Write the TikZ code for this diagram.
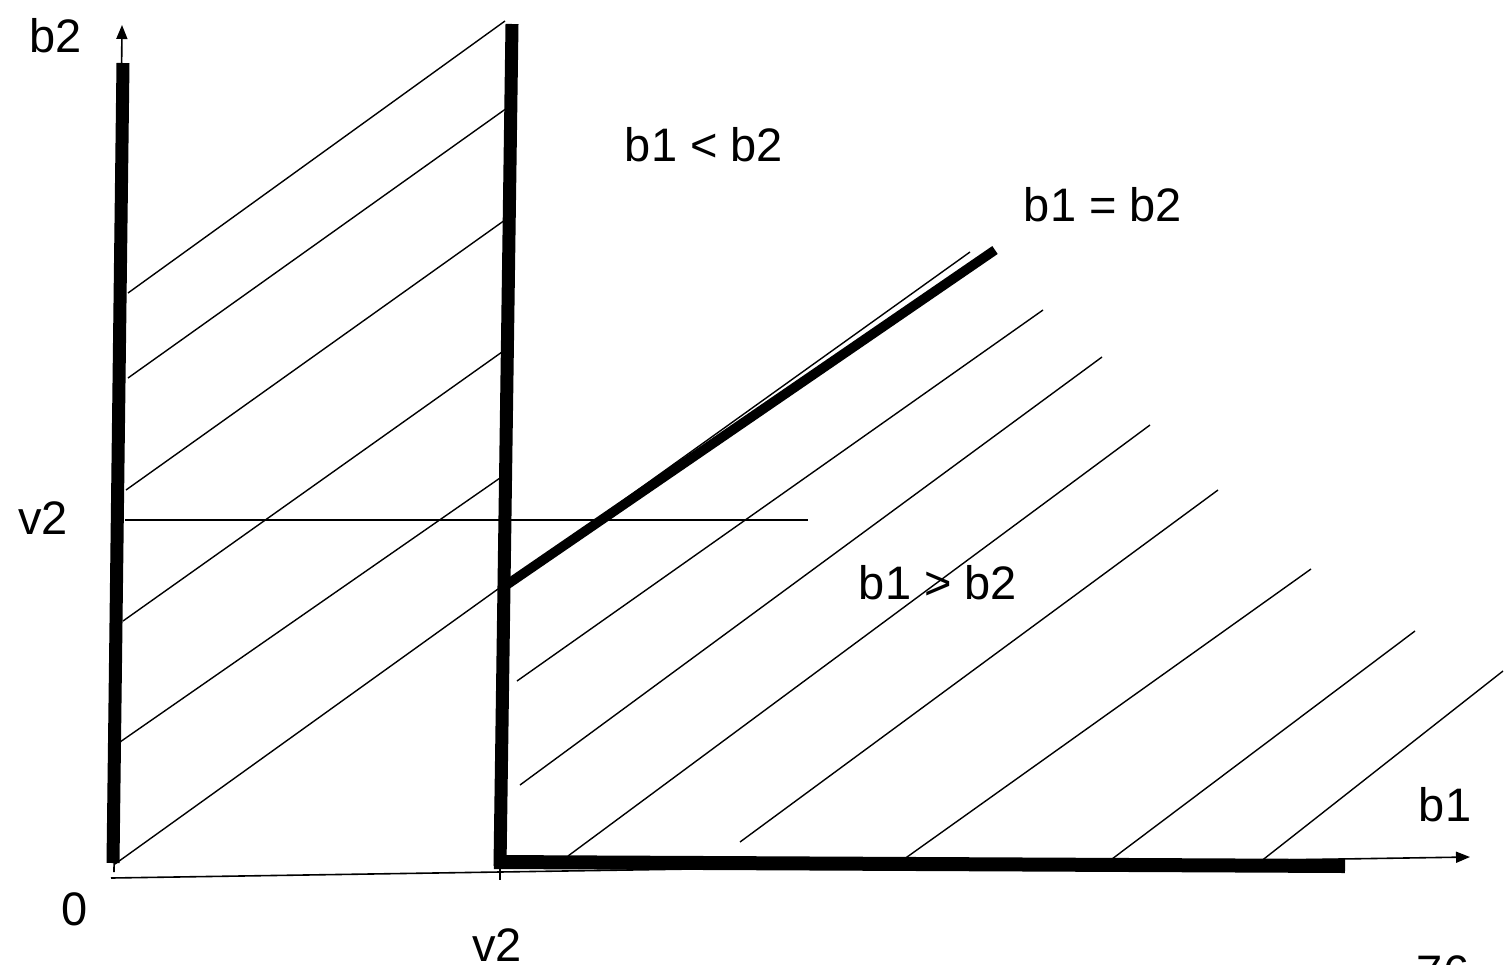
\documentclass[tikz,border=0pt]{standalone}
\usepackage{fontspec}
\setmainfont{Liberation Sans}
\usetikzlibrary{arrows.meta}
\tikzset{
  bar/.style={line width=6.5pt, line cap=butt},
  hatch/.style={line width=0.7pt},
  axisline/.style={line width=0.8pt, -{Triangle[length=7pt,width=5.5pt]}},
  lbl/.style={font=\fontsize{23.5}{28}\selectfont, inner sep=0pt}}

\begin{document}
\begin{tikzpicture}[x=0.5pt, y=-0.5pt]
  \useasboundingbox (0,0) rectangle (1508,964);
  % axes
  \coordinate (origin) at (111,878);
  \coordinate (ybase) at (114,872);
  \coordinate (xtip) at (1470,857);
  \coordinate (ytip) at (122,25);
  \draw[axisline] (origin) -- (xtip);
  \draw[axisline] (ybase) -- (ytip);
  \coordinate (tickt) at (500,869);
  \coordinate (tickb) at (500,880);
  \draw[hatch] (tickt) -- (tickb);
  % level v2
  \coordinate (vl) at (125,520);
  \coordinate (vr) at (808,520);
  \draw[hatch] (vl) -- (vr);
  % hatching, left band
  \draw[hatch] (128,293) -- (505,21);
  \draw[hatch] (128,378) -- (507,108);
  \draw[hatch] (126,490) -- (505,220);
  \draw[hatch] (123,621) -- (502,352);
  \draw[hatch] (120,742) -- (500,478);
  \draw[hatch] (115,864) -- (498,589);
  % hatching, right region
  \draw[hatch] (512,580) -- (970,252);
  \draw[hatch] (517,681) -- (1043,310);
  \draw[hatch] (520,785) -- (1102,357);
  \draw[hatch] (568,856) -- (1150,425);
  \draw[hatch] (740,842) -- (1218,490);
  \draw[hatch] (900,862) -- (1311,569);
  \draw[hatch] (1108,862) -- (1415,631);
  \draw[hatch] (1260,862) -- (1503,671);
  % thick borders
  \coordinate (lbot) at (113,863);
  \coordinate (ltop) at (123,63);
  \coordinate (mbot) at (500,866);
  \coordinate (mtop) at (512,24);
  \coordinate (hleft) at (494,862);
  \coordinate (hright) at (1345,866);
  \coordinate (dlow) at (505,586);
  \coordinate (dhigh) at (995,250);
  \draw[bar] (lbot) -- (ltop);
  \draw[bar] (mbot) -- (mtop);
  \draw[bar, line width=7pt] (hleft) -- (hright);
  \draw[bar, line width=4.8pt] (dlow) -- (dhigh);
  % labels
  \node[lbl] (lb2) at (56,36) {b2};
  \node[lbl] (lb1) at (1445,805) {b1};
  \node[lbl] (lzero) at (75,909) {0};
  \node[lbl] (lv2x) at (497,945) {v2};
  \node[lbl] (lv2y) at (43,518) {v2};
  \node[lbl] (lless) at (704,145) {b1 < b2};
  \node[lbl] (leq) at (1103,205) {b1 = b2};
  \node[lbl] (lmore) at (938,583) {b1 > b2};
  \node[lbl, anchor=north] (lpage) at (1443,955) {76};
\end{tikzpicture}
\end{document}
